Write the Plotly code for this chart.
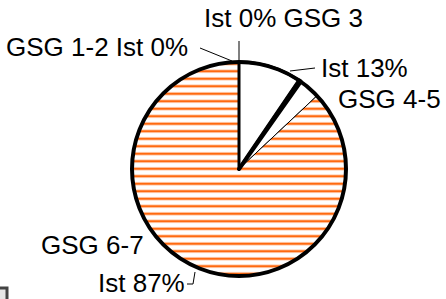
import plotly.graph_objects as go

W, H = 446, 299

# ---- data ----
groups = ["GSG 1-2", "GSG 3", "GSG 4-5", "GSG 6-7"]
ist_share = [0, 0, 13, 87]           # percent
ist_labels = ["Ist 0%", "Ist 0%", "Ist 13%", "Ist 87%"]
# black divider inside the GSG 4-5 slice (percent of circle)
divider_parts = [9.5, 0.3, 90.2]

ORANGE = "#ff6a10"
FONT = "Liberation Sans, Arial, sans-serif"

def px(x):
    return x / W

def py(y):
    return 1 - y / H

cx, cy, r = 239, 169, 107
dom_x = [px(cx - r), px(cx + r)]
dom_y = [py(cy + r), py(cy - r)]

fig = go.Figure()

# main pie
fig.add_trace(go.Pie(
    labels=groups, values=ist_share, sort=False, direction="clockwise", rotation=0,
    textinfo="none", hoverinfo="label+percent", showlegend=False,
    domain=dict(x=dom_x, y=dom_y),
    marker=dict(
        colors=["white", "white", "white", "white"],
        line=dict(color="black", width=1),
        pattern=dict(shape=["", "", "", "-"], fgcolor=ORANGE, bgcolor="white",
                     fgopacity=1, size=7.5, solidity=0.33, fillmode="overlay"),
    ),
))

# black divider band + thick top edge
fig.add_trace(go.Pie(
    labels=["a", "b", "c"], values=divider_parts, sort=False, direction="clockwise",
    rotation=0, textinfo="none", hoverinfo="skip", showlegend=False,
    domain=dict(x=dom_x, y=dom_y),
    marker=dict(colors=["rgba(0,0,0,0)", "black", "rgba(0,0,0,0)"],
                line=dict(color=["black", "black", "rgba(0,0,0,0)"], width=[3, 4, 0])),
))

# thick outer ring
fig.add_trace(go.Pie(
    labels=["ring"], values=[1], textinfo="none", hoverinfo="skip", showlegend=False,
    domain=dict(x=dom_x, y=dom_y),
    marker=dict(colors=["rgba(0,0,0,0)"], line=dict(color="black", width=4)),
))

# labels
label_specs = [
    (f"{groups[0]} {ist_labels[0]}", 4, 47),
    (f"{ist_labels[1]} {groups[1]}", 202, 18),
    (ist_labels[2], 319, 68),
    (groups[2], 336, 99),
    (groups[3], 39, 245),
    (ist_labels[3], 96, 283),
]
annotations = []
for text, x, y in label_specs:
    annotations.append(dict(
        text=text, x=px(x), y=py(y), xref="paper", yref="paper",
        xanchor="left", yanchor="middle", showarrow=False,
        font=dict(family=FONT, size=26, color="black"),
    ))

def path(points):
    s = "M " + " L ".join(f"{px(a)} {py(b)}" for a, b in points)
    return s

leaders = [
    [(200, 48), (232, 61)],
    [(239, 41), (239, 61)],
    [(290, 71), (315, 68)],
    [(195, 272), (193, 284), (187, 284)],
]
shapes = [dict(type="path", xref="paper", yref="paper", path=path(p),
               line=dict(color="black", width=1)) for p in leaders]
# partial legend box at bottom-left
shapes.append(dict(type="rect", xref="paper", yref="paper",
                   x0=px(-6), x1=px(7), y0=py(310), y1=py(288),
                   line=dict(color="#444444", width=3), fillcolor="#e6e6e6"))

fig.update_layout(
    width=W, height=H, margin=dict(l=0, r=0, t=0, b=0),
    paper_bgcolor="white", plot_bgcolor="white",
    annotations=annotations, shapes=shapes,
)

fig.write_html("out.html", config={"displayModeBar": False},
               post_script="document.body.style.margin='0';document.body.style.overflow='hidden';")
